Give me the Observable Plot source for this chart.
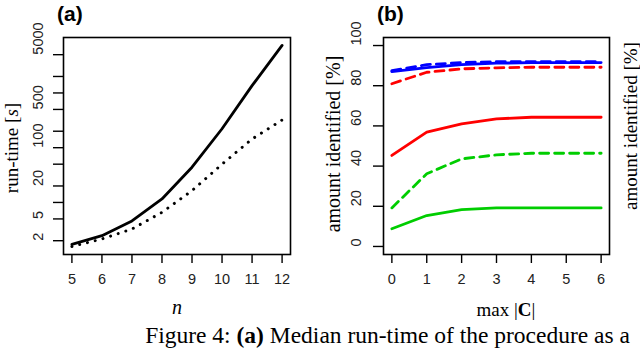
<!DOCTYPE html>
<html><head><meta charset="utf-8">
<script src="https://cdn.jsdelivr.net/npm/d3@7"></script>
<script src="https://cdn.jsdelivr.net/npm/@observablehq/plot@0.6"></script>
<style>
body{margin:0;background:#fff;}
#wrap{position:relative;width:640px;height:350px;overflow:hidden;background:#fff;}
.panel{position:absolute;top:0;}
.lbl{position:absolute;white-space:nowrap;font-family:"Liberation Serif",serif;color:#000;line-height:1;}
.rot{transform:translate(-50%,-50%) rotate(-90deg);}
.ctr{transform:translate(-50%,-50%);}
.ttl{position:absolute;font-family:"Liberation Sans",Arial,sans-serif;font-weight:bold;font-size:21px;line-height:1.2;top:1px;}
</style></head><body><div id="wrap"></div>
<script>
// ---- Panel (a): run-time vs n ----
const nValues = [5, 6, 7, 8, 9, 10, 11, 12];
const runtimeSolid = [1.72, 2.47, 4.6, 11.6, 44, 222, 1360, 7400];
const runtimeDotted = [1.57, 2.15, 3.27, 6.6, 16.4, 50, 144, 320];
const runtimeTicks = [2, 5, 10, 20, 50, 100, 200, 500, 1000, 2000, 5000];
const runtimeTickLabels = [2, 5, 20, 100, 500, 5000];

// ---- Panel (b): amount identified vs max |C| ----
const maxC = [0, 1, 2, 3, 4, 5, 6];
const blueSolid   = [87, 89, 90.5, 91.2, 91.5, 91.5, 91.5];
const blueDashed  = [87.5, 90.5, 91.5, 92, 92, 92, 92];
const redDashed   = [81, 86.7, 88.4, 88.9, 89.2, 89.2, 89.2];
const redSolid    = [45.3, 56.9, 61, 63.5, 64.3, 64.3, 64.3];
const greenDashed = [19.2, 36.2, 43.6, 45.6, 46.4, 46.4, 46.4];
const greenSolid  = [8.8, 15.4, 18.3, 19.2, 19.2, 19.2, 19.2];
const amountTicks = [0, 20, 40, 60, 80, 100];

const sans = "Liberation Sans, Arial, sans-serif";
const wrap = document.getElementById("wrap");
const W = 320, H = 300, MT = 37, MB = 46, ML = 63;
const frameH = H - MT - MB;

const rowsA = (ys) => nValues.map((n, i) => ({n, t: ys[i]}));

const MRa = 30, frameWa = W - ML - MRa;
const plotA = Plot.plot({
  width: W, height: H,
  marginLeft: ML, marginRight: MRa, marginTop: MT, marginBottom: MB,
  style: {background: "transparent", fontFamily: sans, overflow: "visible"},
  x: {domain: [4.72, 12.28], axis: null},
  y: {type: "log", domain: [1.12, 10300], axis: null},
  marks: [
    Plot.ruleX(nValues, {x: d => d, insetTop: frameH, insetBottom: -9, stroke: "black", strokeWidth: 1.4}),
    Plot.text(nValues, {x: d => d, frameAnchor: "bottom", dy: 29, text: d => String(d), fontSize: 14.5, fill: "#222"}),
    Plot.ruleY(runtimeTicks, {y: d => d, insetRight: frameWa, insetLeft: -10, stroke: "black", strokeWidth: 1.4}),
    Plot.text(runtimeTickLabels, {y: d => d, frameAnchor: "left", dx: -25, rotate: -90, text: d => String(d), fontSize: 14.5, fill: "#222"}),
    Plot.line(rowsA(runtimeDotted), {x: "n", y: "t", stroke: "black", strokeWidth: 3, strokeDasharray: "0.01,8", strokeLinecap: "round"}),
    Plot.line(rowsA(runtimeSolid), {x: "n", y: "t", stroke: "black", strokeWidth: 2.8}),
    Plot.frame({stroke: "black", strokeWidth: 1.6})
  ]
});
plotA.classList.add("panel");
plotA.style.left = "0px";
wrap.appendChild(plotA);

const rowsB = (ys) => maxC.map((c, i) => ({c, v: ys[i]}));

const MRb = 31, frameWb = W - ML - MRb;
const plotB = Plot.plot({
  width: W, height: H,
  marginLeft: ML, marginRight: MRb, marginTop: MT, marginBottom: MB,
  style: {background: "transparent", fontFamily: sans, overflow: "visible"},
  x: {domain: [-0.24, 6.24], axis: null},
  y: {domain: [-4, 104], axis: null},
  marks: [
    Plot.ruleX(maxC, {x: d => d, insetTop: frameH, insetBottom: -9, stroke: "black", strokeWidth: 1.4}),
    Plot.text(maxC, {x: d => d, frameAnchor: "bottom", dy: 29, text: d => String(d), fontSize: 14.5, fill: "#222"}),
    Plot.ruleY(amountTicks, {y: d => d, insetRight: frameWb, insetLeft: -10, stroke: "black", strokeWidth: 1.4}),
    Plot.text(amountTicks, {y: d => d, frameAnchor: "left", dx: -27, rotate: -90, text: d => String(d), fontSize: 14.5, fill: "#222"}),
    Plot.line(rowsB(greenSolid), {x: "c", y: "v", stroke: "#00CD00", strokeWidth: 2.8}),
    Plot.line(rowsB(greenDashed), {x: "c", y: "v", stroke: "#00CD00", strokeWidth: 2.8, strokeDasharray: "9,6"}),
    Plot.line(rowsB(redSolid), {x: "c", y: "v", stroke: "#FF0000", strokeWidth: 2.8}),
    Plot.line(rowsB(redDashed), {x: "c", y: "v", stroke: "#FF0000", strokeWidth: 2.8, strokeDasharray: "9,6"}),
    Plot.line(rowsB(blueSolid), {x: "c", y: "v", stroke: "#0000FF", strokeWidth: 2.8}),
    Plot.line(rowsB(blueDashed), {x: "c", y: "v", stroke: "#0000FF", strokeWidth: 2.8, strokeDasharray: "9,6"}),
    Plot.frame({stroke: "black", strokeWidth: 1.6})
  ]
});
plotB.classList.add("panel");
plotB.style.left = "320px";
wrap.appendChild(plotB);

function addLabel(html, cls, left, top, size, extra) {
  const d = document.createElement("div");
  d.className = cls;
  d.innerHTML = html;
  d.style.left = left + "px";
  d.style.top = top + "px";
  if (size) d.style.fontSize = size + "px";
  if (extra) Object.assign(d.style, extra);
  wrap.appendChild(d);
  return d;
}
addLabel("(a)", "ttl", 57, 1);
addLabel("(b)", "ttl", 377, 1);
addLabel("run-time [<i>s</i>]", "lbl rot", 11, 148, 19);
addLabel("amount identified [%]", "lbl rot", 333, 144, 20);
addLabel("amount identified [%]", "lbl rot", 630, 126, 19);
addLabel("<i>n</i>", "lbl ctr", 177, 307, 20);
addLabel("max |<b>C</b>|", "lbl ctr", 506, 309, 19);
addLabel("Figure 4: <b>(a)</b> Median run-time of the procedure as a", "lbl", 0, 324, 23.5, {left: "auto", right: "10px"});
</script>
</body></html>
